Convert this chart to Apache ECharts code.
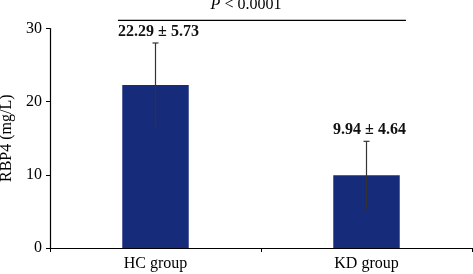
<!DOCTYPE html>
<html><head><meta charset="utf-8">
<script src="https://cdn.jsdelivr.net/npm/echarts@6/dist/echarts.min.js"></script>
<style>html,body{margin:0;padding:0;background:#fff}#c{width:473px;height:274px}</style>
</head><body><div id="c"></div>
<script>
var categories = ['HC group', 'KD group'];
var means = [22.29, 9.94];
var sds = [5.73, 4.64];
var yTicks = [0, 10, 20, 30];
var pText = 'P < 0.0001';
var yName = 'RBP4 (mg/L)';

var FONT = '"Liberation Serif", "DejaVu Serif", serif';
var chart = echarts.init(document.getElementById('c'), null, {renderer: 'canvas'});
var errData = means.map(function (m, i) { return [i, m, m - sds[i], m + sds[i]]; });

chart.setOption({
  animation: false,
  grid: {left: 50, right: 1, top: 28.5, bottom: 26, containLabel: false, outerBoundsMode: 'none'},
  xAxis: {
    type: 'category', data: categories,
    axisLine: {lineStyle: {color: '#000', width: 1.2}},
    axisTick: {show: true, length: 4, lineStyle: {color: '#000'}},
    axisLabel: {color: '#000', fontFamily: FONT, fontSize: 16, margin: 8}
  },
  yAxis: {
    type: 'value', min: yTicks[0], max: yTicks[yTicks.length - 1], interval: 10,
    name: yName, nameLocation: 'middle', nameGap: 32, nameRotate: 90,
    nameTextStyle: {color: '#000', fontFamily: FONT, fontSize: 16},
    axisLine: {show: true, lineStyle: {color: '#000', width: 1.2}},
    axisTick: {show: true, length: 4, lineStyle: {color: '#000'}},
    axisLabel: {color: '#000', fontFamily: FONT, fontSize: 16, margin: 8},
    splitLine: {show: false}
  },
  series: [
    {
      type: 'bar', data: means, barWidth: '31.5%',
      itemStyle: {color: '#172b7b'}
    },
    {
      type: 'custom', data: errData, z: 5, clip: false,
      renderItem: function (params, api) {
        var x = api.value(0);
        var top = api.coord([x, api.value(3)]);
        var bot = api.coord([x, api.value(2)]);
        var cap = 3;
        var i = params.dataIndex;
        return {
          type: 'group', children: [
            {type: 'line', shape: {x1: top[0], y1: top[1], x2: bot[0], y2: bot[1]}, style: {stroke: '#333', lineWidth: 1.2}},
            {type: 'line', shape: {x1: top[0] - cap, y1: top[1], x2: top[0] + cap, y2: top[1]}, style: {stroke: '#333', lineWidth: 1.2}},
            {type: 'text', x: top[0] + 3, y: top[1] - 3, style: {
              text: means[i].toFixed(2) + ' ± ' + sds[i].toFixed(2),
              fontFamily: FONT, fontSize: 16, fontWeight: 'bold', fill: '#111',
              align: 'center', verticalAlign: 'bottom'}}
          ]
        };
      }
    },
    {
      type: 'custom', data: [[0, 31.1]], z: 5, clip: false,
      renderItem: function (params, api) {
        var a = api.coord([0, api.value(1)]);
        var b = api.coord([1, api.value(1)]);
        var bw = api.size([1, 0])[0];
        var x1 = a[0] - bw * 0.178;
        var x2 = b[0] + bw * 0.187;
        return {
          type: 'group', children: [
            {type: 'line', shape: {x1: x1, y1: a[1], x2: x2, y2: a[1]}, style: {stroke: '#000', lineWidth: 1.2}},
            {type: 'text', x: (a[0] + b[0]) / 2 - 15, y: a[1] - 8, style: {
              rich: {i: {fontStyle: 'italic', fontFamily: FONT, fontSize: 16, fill: '#000'},
                     n: {fontFamily: FONT, fontSize: 16, fill: '#000'}},
              text: '{i|' + pText.charAt(0) + '}{n|' + pText.slice(1) + '}',
              align: 'center', verticalAlign: 'bottom'}}
          ]
        };
      }
    }
  ]
});
</script></body></html>
